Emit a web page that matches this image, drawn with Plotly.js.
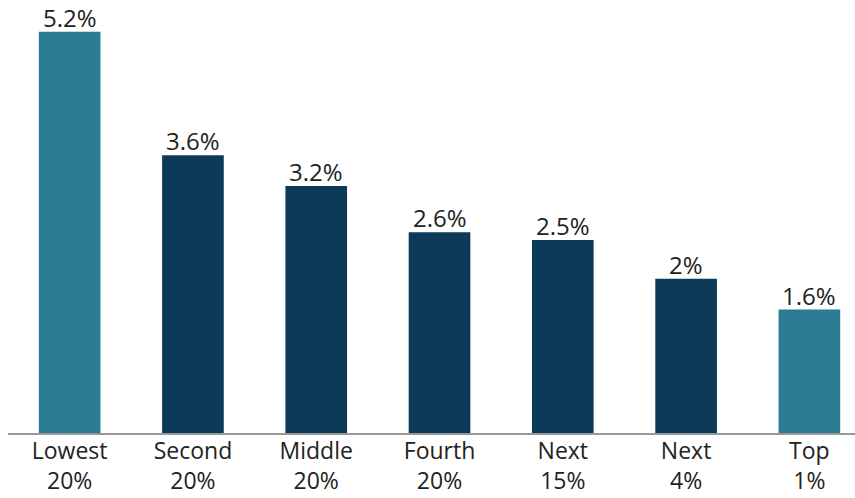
<!DOCTYPE html>
<html>
<head>
<meta charset="utf-8">
<script src="https://cdn.plot.ly/plotly-3.0.1.min.js"></script>
<style>html,body{margin:0;padding:0;background:#fff;}#chart{width:855px;height:498px;}</style>
</head>
<body>
<div id="chart"></div>
<script>
const categories = ["Lowest<br>20%", "Second<br>20%", "Middle<br>20%", "Fourth<br>20%", "Next<br>15%", "Next<br>4%", "Top<br>1%"];
const values = [5.2, 3.6, 3.2, 2.6, 2.5, 2, 1.6];
const labels = ["5.2%", "3.6%", "3.2%", "2.6%", "2.5%", "2%", "1.6%"];
const barColors = ["#2a7b93", "#0e3a5a", "#0e3a5a", "#0e3a5a", "#0e3a5a", "#0e3a5a", "#2a7b93"];

const xs = categories.map((c, i) => i);

const valueAnnotations = xs.map((x, i) => ({
  x: x, y: values[i], xref: "x", yref: "y",
  text: labels[i], showarrow: false,
  xanchor: "center", yanchor: "bottom", yshift: -4,
  font: {family: "Open Sans", size: 24, color: "#222"}
}));

Plotly.newPlot("chart", [{
  type: "bar",
  x: xs,
  y: values,
  cliponaxis: false,
  marker: {color: barColors, line: {width: 0}},
  width: 0.5,
  hoverinfo: "none"
}], {
  width: 855, height: 498,
  margin: {l: 8, r: 0, t: 24, b: 65},
  paper_bgcolor: "#fff", plot_bgcolor: "#fff",
  showlegend: false,
  font: {family: "Open Sans", size: 23, color: "#222"},
  annotations: valueAnnotations,
  xaxis: {
    type: "linear",
    range: [-0.5, 6.37],
    tickmode: "array",
    tickvals: xs,
    ticktext: categories,
    showgrid: false, zeroline: false,
    showline: true, linecolor: "#999", linewidth: 2,
    ticks: "", ticklabelstandoff: -4,
    tickfont: {family: "Open Sans", size: 23, color: "#222"}
  },
  yaxis: {
    range: [0, 5.3],
    visible: false,
    showgrid: false, zeroline: false
  }
}, {displayModeBar: false, staticPlot: true});
</script>
</body>
</html>
